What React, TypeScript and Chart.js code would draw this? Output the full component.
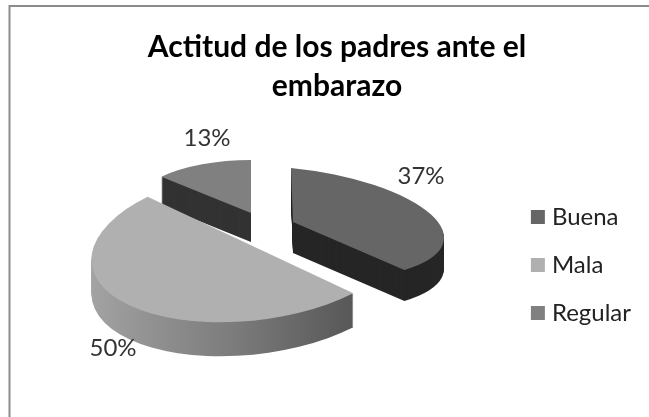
import React, { useEffect, useRef } from "react";
import { Chart, registerables } from "chart.js";

Chart.register(...registerables);

const titleLines = ["Actitud de los padres ante el", "embarazo"];
const categories = ["Buena", "Mala", "Regular"];
const values = [37, 50, 13];
const topColors = ["#666666", "#b0b0b0", "#808080"];
const sideColors = ["#262626", "", "#333333"];
const malaSideStops = ["#a4a4a4", "#7c7c7c", "#4a4a4a"];

// Per-slice projection of the flat pie onto the tilted 3D view
const sliceCentres = [[293, 222], [250.5, 245], [251, 213]];
const sliceRight = [[151, 15], [158, -6], [123, 0]];
const sliceUp = [[-2, -54], [18, -77], [0, -53]];
const sliceDepths = [31, 34, 29];
const labelPositions = [[421, 176], [113, 348], [207, 138]];
const drawOrder = [2, 0, 1];

const pie3d = {
  id: "pie3d",
  beforeDatasetDraw(chart: any) {
    const ctx = chart.ctx;
    const meta = chart.getDatasetMeta(0);
    for (const i of drawOrder) {
      const el = meta.data[i];
      const R = el.outerRadius;
      const base = el.options;
      const apply = (dy: number) => {
        ctx.translate(0, dy);
        ctx.transform(
          sliceRight[i][0] / R,
          sliceRight[i][1] / R,
          -sliceUp[i][0] / R,
          -sliceUp[i][1] / R,
          sliceCentres[i][0],
          sliceCentres[i][1]
        );
        ctx.translate(-el.x, -el.y);
      };
      let side: any = sideColors[i];
      if (!side) {
        side = ctx.createLinearGradient(el.x - R, 0, el.x + R, 0);
        malaSideStops.forEach((c, k) => side.addColorStop(k / (malaSideStops.length - 1), c));
      }
      el.options = { ...base, backgroundColor: side };
      for (let k = sliceDepths[i]; k >= 1; k--) {
        ctx.save();
        apply(k);
        el.draw(ctx);
        ctx.restore();
      }
      el.options = base;
      ctx.save();
      apply(0);
      el.draw(ctx);
      ctx.restore();
    }
    return false;
  },
  afterDraw(chart: any) {
    const ctx = chart.ctx;
    ctx.save();
    ctx.strokeStyle = "#8c8c8c";
    ctx.lineWidth = 2;
    ctx.beginPath();
    ctx.moveTo(9.5, 417);
    ctx.lineTo(9.5, 6);
    ctx.lineTo(649, 6);
    ctx.stroke();
    ctx.fillStyle = "#333333";
    ctx.font = "24px Lato";
    ctx.textAlign = "center";
    ctx.textBaseline = "middle";
    values.forEach((v, i) => {
      ctx.fillText(`${v}%`, labelPositions[i][0], labelPositions[i][1]);
    });
    ctx.restore();
  },
};

export default function App() {
  const ref = useRef<HTMLCanvasElement>(null);
  useEffect(() => {
    document.body.style.margin = "0";
    const chart = new Chart(ref.current as HTMLCanvasElement, {
      type: "pie",
      data: {
        labels: categories,
        datasets: [{ data: values, backgroundColor: topColors, borderWidth: 0 }],
      },
      options: {
        responsive: false,
        animation: false,
        layout: { padding: { top: 28, right: 8, left: 33, bottom: -11 } },
        plugins: {
          tooltip: { enabled: false },
          title: {
            display: true,
            text: titleLines,
            color: "#000000",
            font: { family: "Lato", size: 30, weight: "bold", lineHeight: 1.3 },
            padding: { top: 0, bottom: 7 },
          },
          legend: {
            position: "right",
            fullSize: false,
            labels: {
              color: "#222222",
              font: { family: "Lato", size: 24 },
              usePointStyle: true,
              pointStyle: "rect",
              boxWidth: 4,
              boxHeight: 14,
              padding: 24,
            },
          },
        },
      },
      plugins: [pie3d],
    } as any);
    return () => chart.destroy();
  }, []);
  return <canvas ref={ref} width={649} height={417} style={{ display: "block" }} />;
}
